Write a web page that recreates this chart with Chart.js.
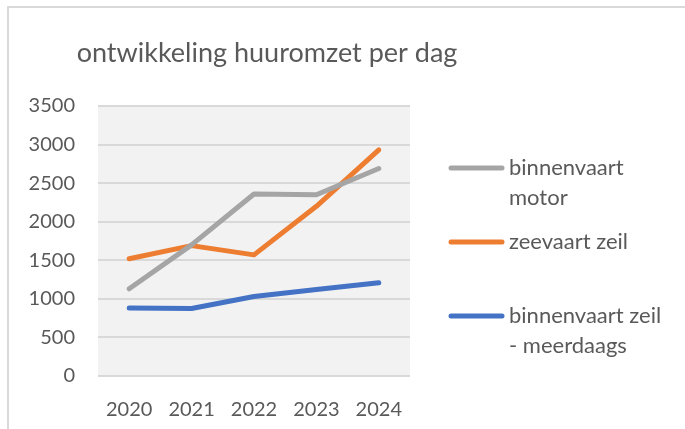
<!DOCTYPE html>
<html>
<head>
<meta charset="utf-8">
<script src="https://cdn.jsdelivr.net/npm/chart.js@4"></script>
<style>
  html, body { margin: 0; padding: 0; background: #fff; }
  #wrap { width: 685px; height: 429px; position: relative; }
</style>
</head>
<body>
<div id="wrap"><canvas id="huurChart" width="685" height="429"></canvas></div>
<script>
const jaren = ['2020', '2021', '2022', '2023', '2024'];
const binnenvaartMotor = [1130, 1700, 2360, 2350, 2690];
const zeevaartZeil = [1520, 1690, 1570, 2200, 2930];
const binnenvaartZeilMeerdaags = [880, 875, 1030, 1120, 1210];
const reeksNamen = ['binnenvaart\nmotor', 'zeevaart zeil', 'binnenvaart zeil\n- meerdaags'];
const titel = 'ontwikkeling huuromzet per dag';

const tekstKleur = '#595959';
const font = 'Lato';

// achtergrond, rand, titel en legenda tekenen
const extras = {
    id: 'extras',
    beforeDraw(chart) {
        const { ctx, chartArea } = chart;
        ctx.save();
        ctx.fillStyle = '#F2F2F2';
        ctx.fillRect(chartArea.left, chartArea.top, chartArea.right - chartArea.left, chartArea.bottom - chartArea.top);
        ctx.strokeStyle = '#D9D9D9';
        ctx.lineWidth = 2;
        ctx.beginPath();
        ctx.moveTo(8, 429);
        ctx.lineTo(8, 7);
        ctx.lineTo(685, 7);
        ctx.stroke();
        ctx.restore();
    },
    afterDraw(chart) {
        const { ctx } = chart;
        ctx.save();
        ctx.fillStyle = tekstKleur;
        ctx.font = `27px ${font}`;
        ctx.textAlign = 'center';
        ctx.textBaseline = 'middle';
        ctx.fillText(titel, 267, 53);

        const legendaY = [168, 242, 316];
        chart.data.datasets.forEach((ds, i) => {
            const y = legendaY[i];
            ctx.strokeStyle = ds.borderColor;
            ctx.lineWidth = 5;
            ctx.lineCap = 'round';
            ctx.beginPath();
            ctx.moveTo(451, y);
            ctx.lineTo(502, y);
            ctx.stroke();
            ctx.fillStyle = tekstKleur;
            ctx.font = `22px ${font}`;
            ctx.textAlign = 'left';
            ds.label.split('\n').forEach((regel, j) => {
                ctx.fillText(regel, 509, y + j * 30);
            });
        });
        ctx.restore();
    }
};

const ctx = document.getElementById('huurChart').getContext('2d');
new Chart(ctx, {
    type: 'line',
    data: {
        labels: jaren,
        datasets: [
            { label: reeksNamen[0], data: binnenvaartMotor, borderColor: '#A5A5A5' },
            { label: reeksNamen[1], data: zeevaartZeil, borderColor: '#ED7D31' },
            { label: reeksNamen[2], data: binnenvaartZeilMeerdaags, borderColor: '#4472C4' }
        ]
    },
    options: {
        responsive: false,
        animation: false,
        devicePixelRatio: 1,
        layout: { padding: { top: 106, right: 275, bottom: 0, left: 0 } },
        elements: {
            line: { borderWidth: 5, tension: 0, borderCapStyle: 'round', borderJoinStyle: 'round' },
            point: { radius: 0 }
        },
        plugins: {
            legend: { display: false },
            title: { display: false },
            tooltip: { enabled: false }
        },
        scales: {
            x: {
                offset: true,
                grid: { display: false },
                border: { display: false },
                ticks: { color: tekstKleur, font: { family: font, size: 20 }, padding: 14 },
                afterFit(scale) { scale.height = 53; }
            },
            y: {
                min: 0,
                max: 3500,
                grid: { color: '#D9D9D9', lineWidth: 2, drawTicks: false },
                border: { display: false },
                ticks: {
                    stepSize: 500,
                    color: tekstKleur,
                    font: { family: font, size: 20 },
                    padding: 23,
                    callback: v => String(v)
                },
                afterFit(scale) { scale.width = 98; }
            }
        }
    },
    plugins: [extras]
});
</script>
</body>
</html>
